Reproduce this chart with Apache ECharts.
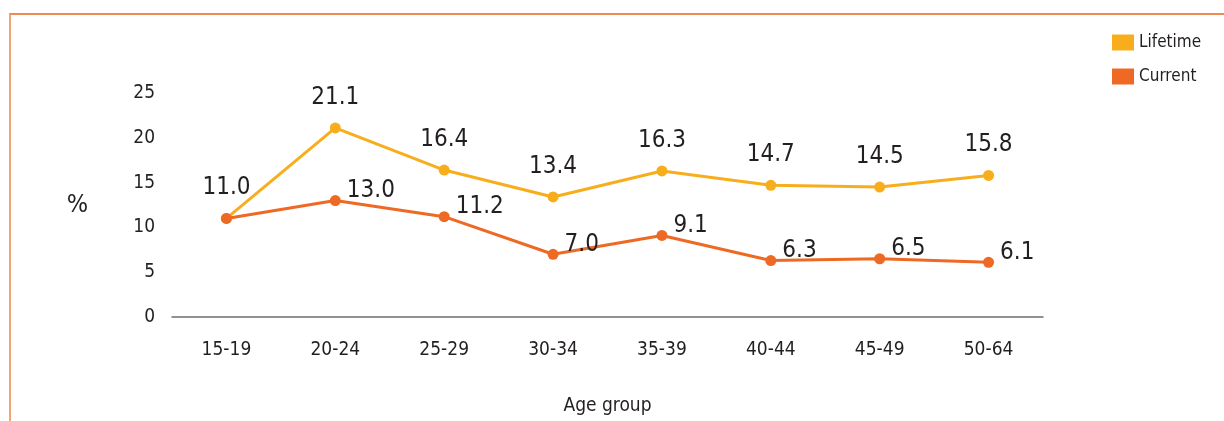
<!DOCTYPE html>
<html>
<head>
<meta charset="utf-8">
<script src="https://cdn.jsdelivr.net/npm/echarts@6/dist/echarts.min.js"></script>
<style>
  html, body { margin: 0; padding: 0; background: #fff; }
  #wrap { position: relative; width: 1224px; height: 421px; }
  #frame { position: absolute; left: 9px; top: 13px; right: 0; bottom: 0;
           border-top: 2px solid #EE8A52; border-left: 2px solid #F4A472; pointer-events: none; }
  #chart { width: 1224px; height: 421px; }
</style>
</head>
<body>
<div id="wrap">
  <div id="chart"></div>
  <div id="frame"></div>
</div>
<script>
const font = '"DejaVu Sans", sans-serif';
// font-stretch keyword goes in front of the weight in the canvas font string
const txt = (size) => ({ fontStyle: 'condensed', fontSize: size, color: '#231F20', fontFamily: font });

const ageGroups = ['15-19', '20-24', '25-29', '30-34', '35-39', '40-44', '45-49', '50-64'];
const lifetime = [11.0, 21.1, 16.4, 13.4, 16.3, 14.7, 14.5, 15.8];
const current = [11.0, 13.0, 11.2, 7.0, 9.1, 6.3, 6.5, 6.1];
const yTicks = { min: 0, max: 25, interval: 5 };

const myChart = echarts.init(document.getElementById('chart'));

const option = {
  backgroundColor: '#fff',
  animation: false,
  color: ['#F8AE1C', '#EE6A24'],
  legend: {
    orient: 'vertical',
    left: 1107,
    top: 29,
    itemWidth: 22,
    itemHeight: 16,
    itemGap: 17,
    icon: 'rect',
    textStyle: txt(17),
    data: ['Lifetime', 'Current']
  },
  grid: { left: 172, right: 181, top: 93, bottom: 100 },
  xAxis: {
    type: 'category',
    data: ageGroups,
    boundaryGap: true,
    axisLine: { lineStyle: { color: '#6d6d6d', width: 1.5 } },
    axisTick: { show: false },
    axisLabel: Object.assign({ margin: 24 }, txt(19)),
    name: 'Age group',
    nameLocation: 'middle',
    nameGap: 80,
    nameTextStyle: txt(19)
  },
  yAxis: {
    type: 'value',
    min: yTicks.min,
    max: yTicks.max,
    interval: yTicks.interval,
    axisLine: { show: false },
    axisTick: { show: false },
    splitLine: { show: false },
    axisLabel: Object.assign({ margin: 17 }, txt(19)),
    name: '%',
    nameLocation: 'middle',
    nameRotate: 0,
    nameGap: 84,
    nameTextStyle: txt(25)
  },
  series: [
    {
      name: 'Lifetime',
      type: 'line',
      data: lifetime,
      symbol: 'circle',
      symbolSize: 11,
      z: 3,
      lineStyle: { width: 3 },
      label: Object.assign({
        show: true,
        position: 'top',
        distance: 13,
        formatter: p => p.value.toFixed(1)
      }, txt(24))
    },
    {
      name: 'Current',
      type: 'line',
      data: current,
      symbol: 'circle',
      symbolSize: 11,
      z: 4,
      lineStyle: { width: 3 },
      label: Object.assign({
        show: true,
        position: 'right',
        distance: 6,
        offset: [0, -10],
        formatter: p => p.dataIndex === 0 ? '' : p.value.toFixed(1)
      }, txt(24))
    }
  ]
};

myChart.setOption(option);
</script>
</body>
</html>
